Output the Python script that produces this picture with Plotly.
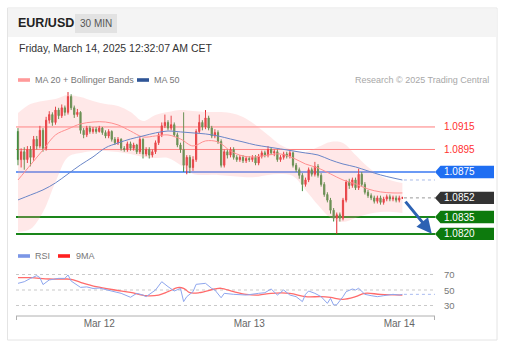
import pandas as pd
import plotly.graph_objects as go

W, H = 511, 351
FONT = "Liberation Sans, Arial, sans-serif"

# ---------------- data ----------------
start = pd.Timestamp("2025-03-11 11:00")
step = pd.Timedelta(minutes=30)

opens = [
    1.0911, 1.0886, 1.0893, 1.0886, 1.0895, 1.0888, 1.0904, 1.0898, 1.0912, 1.0896,
    1.0921, 1.0926, 1.0919, 1.0930, 1.0925, 1.0932, 1.0928, 1.0942, 1.0932, 1.0926,
    1.0928, 1.0912, 1.0908, 1.0914, 1.0911, 1.0913, 1.0911, 1.0914, 1.0910, 1.0907,
    1.0911, 1.0904, 1.0901, 1.0904, 1.0896, 1.0895, 1.0900, 1.0896, 1.0899, 1.0893,
    1.0904, 1.0891, 1.0895, 1.0890, 1.0893, 1.0901, 1.0908, 1.0916, 1.0919, 1.0914,
    1.0917, 1.0908, 1.0899, 1.0895, 1.0881, 1.0888, 1.0879, 1.0886, 1.0911, 1.0919,
    1.0915, 1.0923, 1.0914, 1.0907, 1.0910, 1.0902, 1.0881, 1.0893, 1.0890, 1.0895,
    1.0888, 1.0886, 1.0888, 1.0885, 1.0887, 1.0886, 1.0888, 1.0883, 1.0889, 1.0892,
    1.0890, 1.0895, 1.0892, 1.0893, 1.0886, 1.0888, 1.0891, 1.0889, 1.0892, 1.0881,
    1.0877, 1.0872, 1.0864, 1.0868, 1.0877, 1.0873, 1.0880, 1.0872, 1.0864, 1.0855,
    1.0850, 1.0841, 1.0834, 1.0837, 1.0834, 1.0850, 1.0866, 1.0863, 1.0868, 1.0861,
    1.0873, 1.0864, 1.0857, 1.0854, 1.0852, 1.0849, 1.0852, 1.0848, 1.0851, 1.0853,
    1.0851, 1.0852, 1.0850, 1.0852,
]
closes = [
    1.0886, 1.0893, 1.0886, 1.0895, 1.0888, 1.0904, 1.0898, 1.0912, 1.0896, 1.0921,
    1.0926, 1.0919, 1.0930, 1.0925, 1.0932, 1.0928, 1.0942, 1.0932, 1.0926, 1.0928,
    1.0912, 1.0908, 1.0914, 1.0911, 1.0913, 1.0911, 1.0914, 1.0910, 1.0907, 1.0911,
    1.0904, 1.0901, 1.0904, 1.0896, 1.0895, 1.0900, 1.0896, 1.0899, 1.0893, 1.0904,
    1.0891, 1.0895, 1.0890, 1.0893, 1.0901, 1.0908, 1.0916, 1.0919, 1.0914, 1.0917,
    1.0908, 1.0899, 1.0895, 1.0881, 1.0888, 1.0879, 1.0886, 1.0911, 1.0919, 1.0915,
    1.0923, 1.0914, 1.0907, 1.0910, 1.0902, 1.0881, 1.0893, 1.0890, 1.0895, 1.0888,
    1.0886, 1.0888, 1.0885, 1.0887, 1.0886, 1.0888, 1.0883, 1.0889, 1.0892, 1.0890,
    1.0895, 1.0892, 1.0893, 1.0886, 1.0888, 1.0891, 1.0889, 1.0892, 1.0881, 1.0877,
    1.0872, 1.0864, 1.0868, 1.0877, 1.0873, 1.0880, 1.0872, 1.0864, 1.0855, 1.0850,
    1.0841, 1.0834, 1.0837, 1.0834, 1.0850, 1.0866, 1.0863, 1.0868, 1.0861, 1.0873,
    1.0864, 1.0857, 1.0854, 1.0852, 1.0849, 1.0852, 1.0848, 1.0851, 1.0853, 1.0851,
    1.0852, 1.0850, 1.0852, 1.0852,
]
highs = [
    1.0914, 1.0896, 1.0897, 1.0898, 1.0898, 1.0907, 1.0907, 1.0916, 1.0914, 1.0924,
    1.0929, 1.0928, 1.0933, 1.0932, 1.0935, 1.0934, 1.0946, 1.0944, 1.0934, 1.0931,
    1.0929, 1.0914, 1.0916, 1.0916, 1.0915, 1.0915, 1.0916, 1.0915, 1.0912, 1.0913,
    1.0912, 1.0906, 1.0906, 1.0905, 1.0898, 1.0902, 1.0902, 1.0901, 1.0900, 1.0906,
    1.0905, 1.0897, 1.0897, 1.0895, 1.0903, 1.0910, 1.0919, 1.0926, 1.0921, 1.0925,
    1.0919, 1.0910, 1.0901, 1.0928, 1.0890, 1.0890, 1.0889, 1.0913, 1.0926, 1.0921,
    1.0930, 1.0925, 1.0916, 1.0913, 1.0912, 1.0904, 1.0895, 1.0895, 1.0897, 1.0897,
    1.0890, 1.0890, 1.0890, 1.0889, 1.0889, 1.0890, 1.0890, 1.0891, 1.0894, 1.0894,
    1.0898, 1.0897, 1.0895, 1.0895, 1.0890, 1.0893, 1.0893, 1.0894, 1.0893, 1.0883,
    1.0879, 1.0874, 1.0870, 1.0879, 1.0879, 1.0884, 1.0882, 1.0874, 1.0866, 1.0857,
    1.0852, 1.0843, 1.0839, 1.0839, 1.0852, 1.0868, 1.0869, 1.0870, 1.0870, 1.0878,
    1.0875, 1.0866, 1.0859, 1.0856, 1.0854, 1.0854, 1.0854, 1.0853, 1.0855, 1.0855,
    1.0854, 1.0854, 1.0854, 1.0853,
]
lows = [
    1.0881, 1.0879, 1.0877, 1.0883, 1.0880, 1.0885, 1.0895, 1.0896, 1.0893, 1.0894,
    1.0918, 1.0916, 1.0917, 1.0922, 1.0923, 1.0925, 1.0926, 1.0930, 1.0923, 1.0924,
    1.0909, 1.0905, 1.0906, 1.0909, 1.0909, 1.0909, 1.0910, 1.0908, 1.0905, 1.0905,
    1.0902, 1.0899, 1.0899, 1.0894, 1.0893, 1.0893, 1.0894, 1.0894, 1.0891, 1.0891,
    1.0887, 1.0889, 1.0887, 1.0888, 1.0891, 1.0899, 1.0906, 1.0914, 1.0912, 1.0912,
    1.0906, 1.0897, 1.0892, 1.0875, 1.0873, 1.0874, 1.0876, 1.0884, 1.0909, 1.0912,
    1.0913, 1.0912, 1.0905, 1.0905, 1.0900, 1.0879, 1.0879, 1.0887, 1.0888, 1.0886,
    1.0884, 1.0884, 1.0883, 1.0883, 1.0884, 1.0884, 1.0881, 1.0881, 1.0887, 1.0888,
    1.0888, 1.0890, 1.0889, 1.0884, 1.0884, 1.0886, 1.0887, 1.0887, 1.0879, 1.0875,
    1.0869, 1.0858, 1.0862, 1.0866, 1.0871, 1.0871, 1.0870, 1.0862, 1.0853, 1.0848,
    1.0838, 1.0831, 1.0820, 1.0831, 1.0832, 1.0848, 1.0860, 1.0861, 1.0859, 1.0859,
    1.0862, 1.0855, 1.0852, 1.0850, 1.0847, 1.0847, 1.0846, 1.0846, 1.0849, 1.0849,
    1.0849, 1.0848, 1.0848, 1.0851,
]

# indicator readings (candle index -> value)
ind_idx = [0, 4, 8, 12, 16, 20, 24, 28, 32, 36, 40, 44, 48, 52, 56, 60,
           64, 68, 72, 76, 80, 84, 88, 92, 96, 100, 104, 108, 112, 116, 120, 123]
ma20 = [1.08679, 1.08813, 1.08946, 1.09079, 1.09132, 1.09177, 1.09194, 1.09194,
        1.09168, 1.09114, 1.09061, 1.09070, 1.09079, 1.09043, 1.08981, 1.09026,
        1.09017, 1.08937, 1.08892, 1.08884, 1.08901, 1.08910, 1.08875, 1.08821,
        1.08786, 1.08733, 1.08679, 1.08644, 1.08599, 1.08573, 1.08564, 1.08564]
bb_upper = [1.09274, 1.09354, 1.09381, 1.09399, 1.09434, 1.09416, 1.09381, 1.09354,
            1.09336, 1.09283, 1.09203, 1.09257, 1.09283, 1.09301, 1.09292, 1.09283,
            1.09283, 1.09274, 1.09239, 1.09168, 1.09079, 1.08990, 1.08946, 1.08928,
            1.08972, 1.09017, 1.09008, 1.08901, 1.08795, 1.08715, 1.08670, 1.08653]
bb_lower = [1.08218, 1.08244, 1.08395, 1.08662, 1.08884, 1.08919, 1.08937, 1.08937,
            1.08928, 1.08910, 1.08884, 1.08875, 1.08875, 1.08813, 1.08733, 1.08724,
            1.08724, 1.08715, 1.08706, 1.08706, 1.08724, 1.08733, 1.08715, 1.08591,
            1.08457, 1.08342, 1.08306, 1.08342, 1.08377, 1.08395, 1.08395, 1.08386]
ma50 = [1.08502, 1.08546, 1.08591, 1.08653, 1.08733, 1.08813, 1.08884, 1.08965,
        1.09008, 1.09043, 1.09070, 1.09097, 1.09114, 1.09106, 1.09097, 1.09088,
        1.09070, 1.09043, 1.09017, 1.08990, 1.08972, 1.08955, 1.08937, 1.08919,
        1.08901, 1.08857, 1.08821, 1.08795, 1.08759, 1.08724, 1.08697, 1.08679]

rsi_idx = [0, 2, 4, 6, 7, 8, 10, 13, 15, 16, 17, 20, 22, 24, 26, 30, 33, 36, 38, 40,
           41, 44, 46, 48, 50, 52, 53, 54, 56, 57, 60, 62, 63, 65, 66, 69, 73, 77, 79,
           81, 82, 83, 85, 87, 89, 91, 92, 93, 95, 97, 99, 100, 101, 102, 104, 105,
           107, 108, 109, 110, 111, 113, 115, 117, 120, 122, 123]
rsi_val = [58.6, 60.7, 65.0, 68.5, 66.0, 57.0, 63.0, 65.0, 65.0, 69.4, 61.6, 53.4,
           54.0, 52.0, 52.5, 48.7, 45.7, 40.6, 45.7, 43.5, 41.4, 50.0, 60.7, 54.3,
           48.7, 52.0, 35.0, 41.4, 47.8, 57.3, 58.6, 52.0, 50.0, 40.0, 45.7, 44.4,
           43.5, 45.7, 46.5, 51.3, 47.8, 43.5, 50.0, 43.5, 41.4, 35.0, 44.4, 48.7,
           45.7, 41.4, 32.8, 39.2, 30.6, 31.0, 41.4, 47.8, 51.3, 50.0, 52.2, 47.8,
           44.4, 42.7, 41.4, 42.7, 44.4, 43.5, 44.4]
rsi9_idx = [0, 4, 10, 15, 17, 20, 25, 31, 36, 41, 45, 48, 51, 53, 55, 58, 63, 65,
            69, 73, 77, 81, 87, 92, 97, 100, 104, 108, 111, 116, 123]
rsi9_val = [65.9, 65.9, 64.2, 64.2, 63.8, 59.9, 54.3, 50.0, 47.0, 42.7, 43.5, 47.8,
            53.0, 52.2, 46.5, 46.5, 51.3, 52.2, 47.8, 44.4, 43.5, 45.7, 45.7, 41.4,
            41.4, 40.4, 38.0, 41.4, 45.7, 44.4, 43.5]

resistances = [1.0915, 1.0895]
pivot = 1.0875
supports = [1.0835, 1.0820]
rsi_levels = [70, 50, 30]
tick_dates = ["2025-03-12", "2025-03-13", "2025-03-14"]
tick_text = ["Mar 12", "Mar 13", "Mar 14"]

# ---------------- helpers ----------------
times = [start + step * i for i in range(len(closes))]
t = lambda k: start + step * k
px = lambda x: x / W
py = lambda y: 1 - y / H

x_range = [t(-0.64), t(133.44)]
y_range = [1.08146, 1.09496]
rsi_range = [16.45, 86.13]
last_close = closes[-1]

fig = go.Figure()

# Bollinger band fill
fig.add_trace(go.Scatter(x=[t(k) for k in ind_idx], y=bb_upper, mode="lines",
                         line=dict(width=0, shape="spline"), hoverinfo="skip"))
fig.add_trace(go.Scatter(x=[t(k) for k in ind_idx], y=bb_lower, mode="lines",
                         line=dict(width=0, shape="spline"), fill="tonexty",
                         fillcolor="rgba(255,165,165,0.25)", hoverinfo="skip"))
fig.add_trace(go.Scatter(x=[t(k) for k in ind_idx], y=ma20, mode="lines",
                         line=dict(color="#ff9090", width=1, shape="spline")))
fig.add_trace(go.Scatter(x=[t(k) for k in ind_idx], y=ma50, mode="lines",
                         line=dict(color="#6a86c8", width=1, shape="spline")))

fig.add_trace(go.Candlestick(
    x=times, open=opens, high=highs, low=lows, close=closes,
    increasing=dict(line=dict(color="#e0262b", width=1), fillcolor="#e0262b"),
    decreasing=dict(line=dict(color="#3b8a3b", width=1), fillcolor="#3b8a3b"),
    whiskerwidth=0, hoverinfo="skip"))

# RSI panel
fig.add_trace(go.Scatter(x=[t(k) for k in rsi9_idx], y=rsi9_val, mode="lines",
                         xaxis="x2", yaxis="y2",
                         line=dict(color="#ff6b6b", width=1.3, shape="spline")))
fig.add_trace(go.Scatter(x=[t(k) for k in rsi_idx], y=rsi_val, mode="lines",
                         xaxis="x2", yaxis="y2",
                         line=dict(color="#8ea6ee", width=1)))

shapes = []
# panel + header
shapes.append(dict(type="rect", xref="paper", yref="paper", x0=px(7.5), x1=px(497),
                   y0=py(340), y1=py(8), line=dict(color="#e4e4e4", width=1),
                   fillcolor="white", layer="below"))
shapes.append(dict(type="rect", xref="paper", yref="paper", x0=px(8), x1=px(496.5),
                   y0=py(37), y1=py(8.5), line=dict(width=0),
                   fillcolor="#f4f4f4", layer="below"))
shapes.append(dict(type="rect", xref="paper", yref="paper", x0=px(75), x1=px(117),
                   y0=py(33), y1=py(14), line=dict(width=0),
                   fillcolor="#e2e2e2", layer="below"))
# legend swatches
for x0, y0, col in [(18, 80, "#ff9a9a"), (137, 80, "#2f5597"),
                    (18, 256, "#7b96e6"), (58, 256, "#ff2020")]:
    shapes.append(dict(type="rect", xref="paper", yref="paper", x0=px(x0), x1=px(x0 + 12),
                       y0=py(y0 + 1.8), y1=py(y0 - 1.8), line=dict(width=0), fillcolor=col))

# level lines
for lv in resistances:
    shapes.append(dict(type="line", xref="paper", yref="y", x0=px(16), x1=px(435),
                       y0=lv, y1=lv, line=dict(color="#ff7b7b", width=1), layer="below"))
shapes.append(dict(type="line", xref="paper", yref="y", x0=px(16), x1=px(435),
                   y0=pivot, y1=pivot, line=dict(color="#3a78f2", width=1.3), layer="below"))
for lv in supports:
    shapes.append(dict(type="line", xref="paper", yref="y", x0=px(16), x1=px(435),
                       y0=lv, y1=lv, line=dict(color="#1a861a", width=2), layer="below"))
# dotted continuations
shapes.append(dict(type="line", xref="x", yref="y", x0=t(len(closes) - 0.5), x1=x_range[1],
                   y0=last_close, y1=last_close, line=dict(color="#999999", width=1, dash="dot")))
shapes.append(dict(type="line", xref="x", yref="y", x0=t(ind_idx[-1] + 0.5), x1=x_range[1],
                   y0=ma50[-1], y1=ma50[-1], line=dict(color="#a9bbe6", width=1, dash="dot")))
shapes.append(dict(type="line", xref="x2", yref="y2", x0=t(rsi_idx[-1] + 0.5), x1=x_range[1],
                   y0=rsi_val[-1], y1=rsi_val[-1], line=dict(color="#a9bbf0", width=1, dash="dot")))
# RSI grid
for lv in rsi_levels:
    shapes.append(dict(type="line", xref="paper", yref="y2", x0=px(16), x1=px(435),
                       y0=lv, y1=lv, line=dict(color="#c9c9c9", width=1, dash="dot"), layer="below"))
# bottom axis line with end ticks
shapes.append(dict(type="line", xref="paper", yref="paper", x0=px(16), x1=px(435),
                   y0=py(316), y1=py(316), line=dict(color="#b0b0b0", width=1)))
for xe in (16.5, 434.5):
    shapes.append(dict(type="line", xref="paper", yref="paper", x0=px(xe), x1=px(xe),
                       y0=py(316), y1=py(320), line=dict(color="#b0b0b0", width=1)))

# right tags
half = 6.2 / 11260.0
def tag(level, color):
    return dict(type="path", xref="paper", yref="y", fillcolor=color, line=dict(width=0),
                path=(f"M {px(435)},{level} L {px(440.5)},{level + half} "
                      f"L {px(494)},{level + half} L {px(494)},{level - half} "
                      f"L {px(440.5)},{level - half} Z"))
shapes.append(tag(pivot, "#1f6ef2"))
shapes.append(tag(last_close, "#333333"))
for lv in supports:
    shapes.append(tag(lv, "#0d7a0d"))

ann = []
def txt(x, y, s, size, color, xanchor="left", yref="paper", bold=False):
    ann.append(dict(x=x, y=y, xref="paper", yref=yref, text=f"<b>{s}</b>" if bold else s,
                    showarrow=False, xanchor=xanchor, yanchor="middle",
                    font=dict(family=FONT, size=size, color=color)))

txt(px(16), py(23), "EUR/USD", 12.5, "#222222", bold=True)
txt(px(96), py(23.5), "30 MIN", 10, "#555555", xanchor="center")
txt(px(17), py(48), "Friday, March 14, 2025 12:32:07 AM CET", 10.5, "#333333")
txt(px(33), py(80), "MA 20 + Bollinger Bands", 9, "#777777")
txt(px(152), py(80), "MA 50", 9, "#777777")
txt(px(491), py(80), "Research © 2025 Trading Central", 9, "#a8a8a8", xanchor="right")
txt(px(33), py(256), "RSI", 9, "#777777")
txt(px(74), py(256), "9MA", 9, "#777777")
for lv in resistances:
    txt(px(441.5), lv, f"{lv:.4f}", 10, "#ff3030", yref="y")
txt(px(441.5), pivot, f"{pivot:.4f}", 10, "white", yref="y")
txt(px(441.5), last_close, f"{last_close:.4f}", 10, "white", yref="y")
for lv in supports:
    txt(px(441.5), lv, f"{lv:.4f}", 10, "white", yref="y")
for lv in rsi_levels:
    ann.append(dict(x=px(442), y=lv, xref="paper", yref="y2", text=str(lv), showarrow=False,
                    xanchor="left", yanchor="middle",
                    font=dict(family=FONT, size=9.5, color="#777777")))
# forecast arrow
ann.append(dict(x=t(132.4), y=supports[-1] + 0.00002, xref="x", yref="y",
                ax=t(len(closes) - 0.4), ay=last_close - 0.0002, axref="x", ayref="y",
                showarrow=True, arrowhead=2, arrowsize=1.0, arrowwidth=3,
                arrowcolor="#2d62b3", text=""))

fig.update_layout(
    width=W, height=H, margin=dict(l=0, r=0, t=0, b=0),
    paper_bgcolor="white", plot_bgcolor="rgba(0,0,0,0)",
    showlegend=False, hovermode=False, boxgap=0.45,
    font=dict(family=FONT),
    xaxis=dict(domain=[px(16), px(435)], range=x_range, visible=False,
               rangeslider=dict(visible=False), anchor="y"),
    yaxis=dict(domain=[py(240), py(88)], range=y_range, visible=False, anchor="x"),
    xaxis2=dict(domain=[px(16), px(435)], range=x_range, anchor="y2",
                showgrid=False, zeroline=False, showline=False, ticks="",
                tickvals=tick_dates, ticktext=tick_text,
                tickfont=dict(family=FONT, size=10, color="#666666")),
    yaxis2=dict(domain=[py(316), py(262)], range=rsi_range, visible=False, anchor="x2"),
    shapes=shapes, annotations=ann,
)

fig.write_html("out.html")
